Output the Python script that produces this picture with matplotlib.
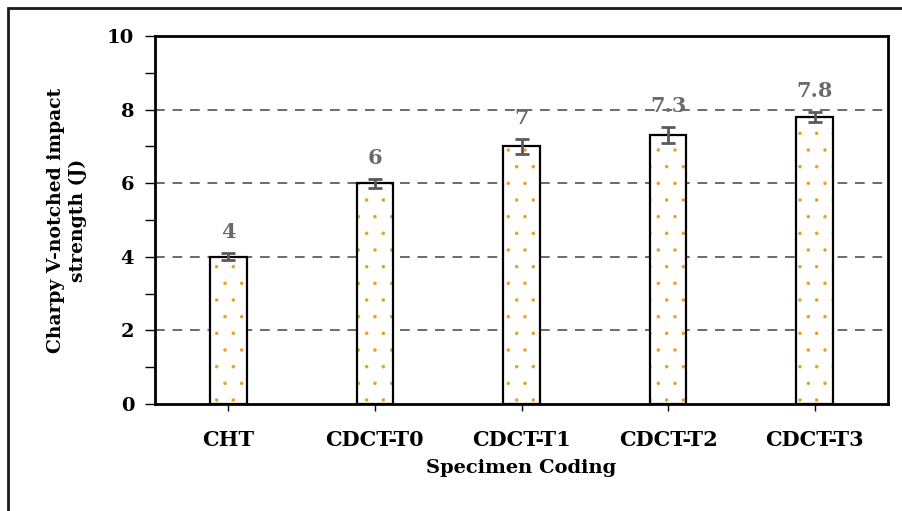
import matplotlib.pyplot as plt
import numpy as np
from matplotlib.patches import Rectangle

# data
specimens = ["CHT", "CDCT-T0", "CDCT-T1", "CDCT-T2", "CDCT-T3"]
impact = [4, 6, 7, 7.3, 7.8]
impact_err = [0.1, 0.12, 0.2, 0.22, 0.13]
value_labels = ["4", "6", "7", "7.3", "7.8"]

plt.rcParams['font.family'] = 'DejaVu Serif'
plt.rcParams['font.weight'] = 'bold'
plt.rcParams['hatch.linewidth'] = 0.1

fig = plt.figure(figsize=(9.03, 5.11), dpi=100)
ax = fig.add_axes([155/903, 1 - 404/511, (888 - 155)/903, (404 - 36)/511])

# outer frame around the chart
fig.patches.append(Rectangle((8/903, -0.1), 1.2, 1 - 8/511 + 0.1,
                             transform=fig.transFigure, fill=False,
                             edgecolor='#1a1a1a', linewidth=2))

x = np.arange(len(specimens))
w = 0.25

# dotted fill (hatch) then black outline on top
ax.bar(x, impact, width=w, color='white', edgecolor='#E8A020',
       hatch='.', linewidth=0, zorder=3)
ax.bar(x, impact, width=w, fill=False, edgecolor='black', linewidth=1.6, zorder=4)

ax.errorbar(x, impact, yerr=impact_err, fmt='none', ecolor='#5a5a5a',
            elinewidth=2, capsize=5, capthick=2, zorder=5)

for xi, v, e, lab in zip(x, impact, impact_err, value_labels):
    ax.annotate(lab, (xi, v + e), xytext=(0, 8), textcoords='offset points',
                ha='center', va='bottom', color='#6a6a6a', fontsize=15,
                fontweight='bold', zorder=6)

ax.set_xlim(-0.5, 4.5)
ax.set_ylim(0, 10)
ax.set_yticks([0, 2, 4, 6, 8, 10])
ax.set_yticks([1, 3, 5, 7, 9], minor=True)
ax.set_xticks(x)
ax.set_xticklabels(specimens)

for gy in [2, 4, 6, 8]:
    ax.axhline(gy, color='#6a6a6a', linestyle=(0, (5, 4)), linewidth=1.4, zorder=1)

for s in ax.spines.values():
    s.set_linewidth(2)
    s.set_color('black')

ax.tick_params(axis='y', which='major', length=7, width=1, labelsize=14, pad=8)
ax.tick_params(axis='y', which='minor', length=7, width=1)
ax.tick_params(axis='x', length=5, width=1, labelsize=15, pad=14)

ax.set_ylabel("Charpy V-notched impact\nstrength (J)", fontsize=13.5,
              fontweight='bold', labelpad=14, linespacing=1.3)
ax.set_xlabel("Specimen Coding", fontsize=14, fontweight='bold', labelpad=6)

fig.savefig("out.png", dpi=100)
